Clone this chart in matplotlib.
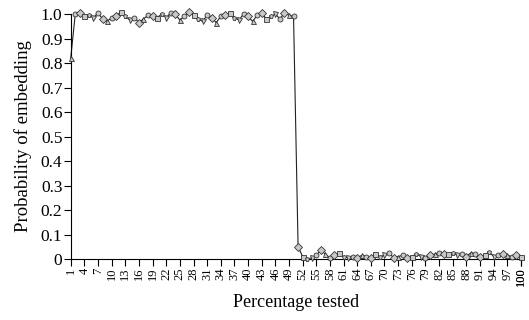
import matplotlib
matplotlib.use("Agg")
import matplotlib.pyplot as plt
import numpy as np

plt.rcParams['font.family'] = ['Liberation Serif', 'DejaVu Serif']

# percentage tested, 1..100
pct = list(range(1, 101))
prob_high = [0.82, 1.00, 1.005, 0.99, 0.995, 0.985, 1.005, 0.98, 0.97, 0.985,
             0.99, 1.01, 0.99, 0.975, 0.985, 0.965, 0.98, 0.995, 0.99, 0.985,
             1.00, 0.985, 1.005, 1.00, 0.975, 0.99, 1.01, 0.995, 0.98, 0.97,
             0.995, 0.985, 0.965, 0.99, 0.995, 1.005, 0.985, 0.975, 1.00, 0.99,
             0.97, 0.995, 1.005, 0.98, 0.99, 1.00, 0.98, 1.005, 0.995, 0.99]
prob_low = [0.05, 0.01, 0.00, 0.005, 0.015, 0.035, 0.02, 0.005, 0.015, 0.025,
            0.01, 0.005, 0.01, 0.005, 0.015, 0.01, 0.005, 0.02, 0.01, 0.015,
            0.025, 0.005, 0.01, 0.015, 0.005, 0.01, 0.02, 0.01, 0.005, 0.015,
            0.02, 0.025, 0.02, 0.02, 0.025, 0.015, 0.02, 0.01, 0.025, 0.02,
            0.01, 0.015, 0.03, 0.01, 0.015, 0.02, 0.015, 0.01, 0.015, 0.01]
prob = prob_high + prob_low
tick_pct = list(range(1, 101, 3)) + [100]

markers = ['^', 'o', 'D', 's', 'p', 'v', 'o', 'D']

fig = plt.figure(figsize=(5.29, 3.2), dpi=100)
ax = fig.add_axes([0.1337, 0.1906, 0.851, 0.7656])

ax.plot(pct, prob, color='#222222', lw=0.8, zorder=2, clip_on=False)
for i, (x, y) in enumerate(zip(pct, prob)):
    ax.plot(x, y, marker=markers[i % len(markers)], ms=3.6, mfc='#c8c8c8',
            mec='#333333', mew=0.6, zorder=3, clip_on=False)

ax.set_xlim(1, 100)
ax.set_ylim(0, 1.0)
ax.set_xticks(tick_pct)
ax.set_xticklabels([str(t) for t in tick_pct], rotation=90, fontsize=9)
ax.set_yticks(np.arange(0, 1.01, 0.1))
ax.set_yticklabels(['0'] + ['%.1f' % v for v in np.arange(0.1, 1.01, 0.1)], fontsize=12.5)
ax.tick_params(axis='both', direction='out', length=5, width=0.8, pad=1)

for s in ['top', 'right']:
    ax.spines[s].set_visible(False)
for s in ['left', 'bottom']:
    ax.spines[s].set_linewidth(0.8)

ax.set_xlabel('Percentage tested', fontsize=13, labelpad=6)
ax.set_ylabel('Probability of embedding', fontsize=13.5, labelpad=6)

fig.savefig('out.png', dpi=100)
